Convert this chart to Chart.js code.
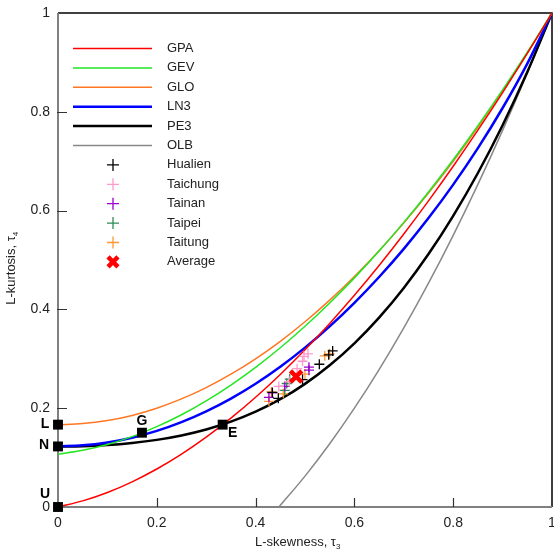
<!DOCTYPE html>
<html>
<head>
<meta charset="utf-8">
<script src="https://cdn.jsdelivr.net/npm/chart.js@4.4.0/dist/chart.umd.min.js"></script>
<style>
  html, body { margin: 0; padding: 0; background: #fff; }
</style>
</head>
<body>
<canvas id="lmrChart" width="554" height="552"></canvas>
<script>
// L-skewness grid used for the theoretical curves
const tau3 = [0, 0.05, 0.1, 0.15, 0.2, 0.25, 0.3, 0.35, 0.4, 0.45, 0.5,
              0.55, 0.6, 0.65, 0.7, 0.75, 0.8, 0.85, 0.9, 0.95, 1];

// L-kurtosis of each distribution
const gpa = [0, 0.0124, 0.0294, 0.0510, 0.0769, 0.1071, 0.1415, 0.1799, 0.2222, 0.2683, 0.3182,
             0.3716, 0.4286, 0.4889, 0.5526, 0.6196, 0.6897, 0.7628, 0.8390, 0.9181, 1];
const gev = [0.1070, 0.1147, 0.1265, 0.1425, 0.1626, 0.1867, 0.2148, 0.2468, 0.2827, 0.3224, 0.3658,
             0.4130, 0.4638, 0.5182, 0.5762, 0.6378, 0.7029, 0.7718, 0.8443, 0.9206, 1];
const glo = [0.1667, 0.1688, 0.1750, 0.1854, 0.2000, 0.2188, 0.2417, 0.2688, 0.3000, 0.3354, 0.3750,
             0.4188, 0.4667, 0.5188, 0.5750, 0.6354, 0.7000, 0.7688, 0.8417, 0.9188, 1];
const ln3 = [0.1228, 0.1248, 0.1306, 0.1403, 0.1540, 0.1717, 0.1935, 0.2194, 0.2495, 0.2839, 0.3226,
             0.3657, 0.4133, 0.4656, 0.5226, 0.5848, 0.6526, 0.7265, 0.8077, 0.8976, 1];
const pe3 = [0.1224, 0.1232, 0.1255, 0.1297, 0.1359, 0.1448, 0.1569, 0.1727, 0.1929, 0.2182, 0.2493,
             0.2869, 0.3314, 0.3835, 0.4435, 0.5120, 0.5894, 0.6761, 0.7729, 0.8806, 1];

// overall lower bound starts where it meets tau4 = 0
const olbTau3 = [0.4472, 0.5, 0.55, 0.6, 0.65, 0.7, 0.75, 0.8, 0.85, 0.9, 0.95, 1];
const olb = [0, 0.0625, 0.1281, 0.2, 0.2781, 0.3625, 0.4531, 0.55, 0.6531, 0.7625, 0.8781, 1];

// station sample L-moment ratios (tau3, tau4)
const hualienT3 = [0.556, 0.548, 0.529, 0.495, 0.446, 0.434];
const hualienT4 = [0.316, 0.308, 0.289, 0.258, 0.220, 0.232];
const taichungT3 = [0.506, 0.498, 0.495, 0.484, 0.468, 0.447];
const taichungT4 = [0.310, 0.305, 0.295, 0.280, 0.254, 0.244];
const tainanT3 = [0.508, 0.508, 0.459, 0.427, 0.434];
const tainanT4 = [0.283, 0.277, 0.244, 0.222, 0.231];
const taipeiT3 = [0.469, 0.459, 0.463];
const taipeiT4 = [0.259, 0.236, 0.250];
const taitungT3 = [0.540, 0.550, 0.500, 0.456, 0.432, 0.427];
const taitungT4 = [0.306, 0.310, 0.269, 0.229, 0.233, 0.214];
const averageT3 = [0.482];
const averageT4 = [0.264];

// special distributions: uniform, normal, logistic, Gumbel, exponential
const specialNames = ['U', 'N', 'L', 'G', 'E'];
const specialT3 = [0, 0, 0, 0.1699, 0.3333];
const specialT4 = [0, 0.1226, 0.1667, 0.1504, 0.1667];

const xTicks = [0, 0.2, 0.4, 0.6, 0.8, 1];
const xTickLabels = ['0', '0.2', '0.4', '0.6', '0.8', '1'];
const yTicks = [0, 0.2, 0.4, 0.6, 0.8, 1];
const yTickLabels = ['0', '0.2', '0.4', '0.6', '0.8', '1'];

const FONT = '"Liberation Sans", Arial, sans-serif';

const pairs = (xs, ys) => xs.map((x, i) => ({ x: x, y: ys[i] }));

const curve = (label, ys, color, width, xs) => ({
    type: 'line',
    label: label,
    data: pairs(xs || tau3, ys),
    borderColor: color,
    borderWidth: width,
    pointRadius: 0,
    cubicInterpolationMode: 'monotone',
    fill: false,
    order: 10
});

const stations = (label, xs, ys, color) => ({
    type: 'scatter',
    label: label,
    data: pairs(xs, ys),
    pointStyle: 'cross',
    pointRadius: 5,
    pointBorderWidth: 1.3,
    borderColor: color,
    backgroundColor: color,
    order: 2
});

const datasets = [
    curve('GPA', gpa, '#ff0000', 1.5),
    curve('GEV', gev, '#22e622', 1.5),
    curve('GLO', glo, '#ff7722', 1.5),
    curve('LN3', ln3, '#0000ff', 2.5),
    curve('PE3', pe3, '#000000', 2.5),
    curve('OLB', olb, '#888888', 1.5, olbTau3),
    stations('Hualien', hualienT3, hualienT4, '#000000'),
    stations('Taichung', taichungT3, taichungT4, '#ff99cc'),
    stations('Tainan', tainanT3, tainanT4, '#9900cc'),
    stations('Taipei', taipeiT3, taipeiT4, '#2e8b57'),
    stations('Taitung', taitungT3, taitungT4, '#ff9933'),
    {
        type: 'scatter',
        label: 'Average',
        data: pairs(averageT3, averageT4),
        pointStyle: 'crossRot',
        pointRadius: 8,
        pointBorderWidth: 4.5,
        borderColor: '#ff0000',
        backgroundColor: '#ff0000',
        order: 1
    },
    {
        type: 'scatter',
        label: 'special',
        data: pairs(specialT3, specialT4),
        pointStyle: 'rect',
        pointRadius: 7,
        pointBorderWidth: 0,
        borderColor: '#000000',
        backgroundColor: '#000000',
        clip: false,
        order: 0
    }
];

// axes frame, inward ticks, tick labels and axis titles
const frame = {
    id: 'frame',
    beforeDatasetsDraw(chart) {
        const { ctx, chartArea: a, scales: { x, y } } = chart;
        ctx.save();
        ctx.lineCap = 'butt';
        ctx.strokeStyle = '#000';
        ctx.lineWidth = 1.5;
        ctx.beginPath();
        ctx.moveTo(a.left, a.top);
        ctx.lineTo(a.right, a.top);
        ctx.lineTo(a.right, a.bottom);
        ctx.stroke();

        ctx.strokeStyle = '#808080';
        ctx.lineWidth = 2;
        ctx.beginPath();
        ctx.moveTo(a.left, a.top);
        ctx.lineTo(a.left, a.bottom);
        ctx.lineTo(a.right, a.bottom);
        ctx.stroke();

        ctx.strokeStyle = '#333';
        ctx.lineWidth = 1.2;
        ctx.beginPath();
        xTicks.slice(1, -1).forEach(v => {
            const px = Math.round(x.getPixelForValue(v)) + 0.5;
            ctx.moveTo(px, a.bottom);
            ctx.lineTo(px, a.bottom - 9);
        });
        yTicks.slice(1, -1).forEach(v => {
            const py = Math.round(y.getPixelForValue(v)) + 0.5;
            ctx.moveTo(a.left - 1, py);
            ctx.lineTo(a.left + 9, py);
        });
        ctx.stroke();
        ctx.restore();
    },
    afterDraw(chart) {
        const { ctx, chartArea: a, scales: { x, y } } = chart;
        ctx.save();
        ctx.fillStyle = '#222';
        ctx.font = '14px ' + FONT;
        ctx.textAlign = 'center';
        ctx.textBaseline = 'middle';
        xTicks.forEach((v, i) => ctx.fillText(xTickLabels[i], x.getPixelForValue(v), a.bottom + 16));
        ctx.textAlign = 'right';
        yTicks.forEach((v, i) => ctx.fillText(yTickLabels[i], a.left - 8, y.getPixelForValue(v)));

        // x title with subscript
        ctx.font = '13px ' + FONT;
        ctx.textAlign = 'left';
        ctx.textBaseline = 'alphabetic';
        const xt = 'L-skewness, τ';
        const xw = ctx.measureText(xt).width;
        const xs = 298 - (xw + 5) / 2;
        ctx.fillText(xt, xs, 546);
        ctx.font = '8px ' + FONT;
        ctx.fillText('3', xs + xw, 549);

        // y title with subscript, rotated
        ctx.translate(15, (a.top + a.bottom) / 2 + 8);
        ctx.rotate(-Math.PI / 2);
        ctx.font = '13px ' + FONT;
        const yt = 'L-kurtosis, τ';
        const yw = ctx.measureText(yt).width;
        ctx.fillText(yt, -(yw + 5) / 2, 0);
        ctx.font = '8px ' + FONT;
        ctx.fillText('4', -(yw + 5) / 2 + yw, 3);
        ctx.restore();

        // letters next to special distribution squares
        const offsets = { U: [-13, -13], N: [-14, -1], L: [-13, -1], G: [0, -12], E: [10, 8] };
        ctx.save();
        ctx.fillStyle = '#000';
        ctx.font = 'bold 14px ' + FONT;
        ctx.textAlign = 'center';
        ctx.textBaseline = 'middle';
        specialNames.forEach((n, i) => {
            const o = offsets[n];
            ctx.fillText(n, x.getPixelForValue(specialT3[i]) + o[0], y.getPixelForValue(specialT4[i]) + o[1]);
        });
        ctx.restore();
    }
};

// legend box in the upper-left corner of the plot
const legendBox = {
    id: 'legendBox',
    afterDraw(chart) {
        const ctx = chart.ctx;
        ctx.save();
        ctx.font = '13px ' + FONT;
        ctx.textBaseline = 'middle';
        ctx.textAlign = 'left';
        chart.data.datasets.filter(d => d.label !== 'special').forEach((d, i) => {
            const yy = 48.5 + i * 19.4;
            if (d.type === 'line') {
                ctx.strokeStyle = d.borderColor;
                ctx.lineWidth = d.borderWidth;
                ctx.beginPath();
                ctx.moveTo(73, yy);
                ctx.lineTo(152, yy);
                ctx.stroke();
            } else {
                ctx.strokeStyle = d.borderColor;
                ctx.fillStyle = d.backgroundColor;
                ctx.lineWidth = d.pointBorderWidth;
                Chart.helpers.drawPoint(ctx, {
                    pointStyle: d.pointStyle,
                    radius: d.label === 'Average' ? 7 : 6,
                    rotation: 0,
                    borderWidth: d.pointBorderWidth
                }, 113, yy);
            }
            ctx.fillStyle = '#222';
            ctx.fillText(d.label, 167, yy);
        });
        ctx.restore();
    }
};

new Chart(document.getElementById('lmrChart'), {
    type: 'scatter',
    data: { datasets: datasets },
    options: {
        responsive: false,
        animation: false,
        layout: { autoPadding: false, padding: { left: 58, right: 2, top: 13, bottom: 45 } },
        plugins: {
            legend: { display: false },
            tooltip: { enabled: false }
        },
        scales: {
            x: { type: 'linear', min: 0, max: 1, display: false },
            y: { type: 'linear', min: 0, max: 1, display: false }
        }
    },
    plugins: [frame, legendBox]
});
</script>
</body>
</html>
